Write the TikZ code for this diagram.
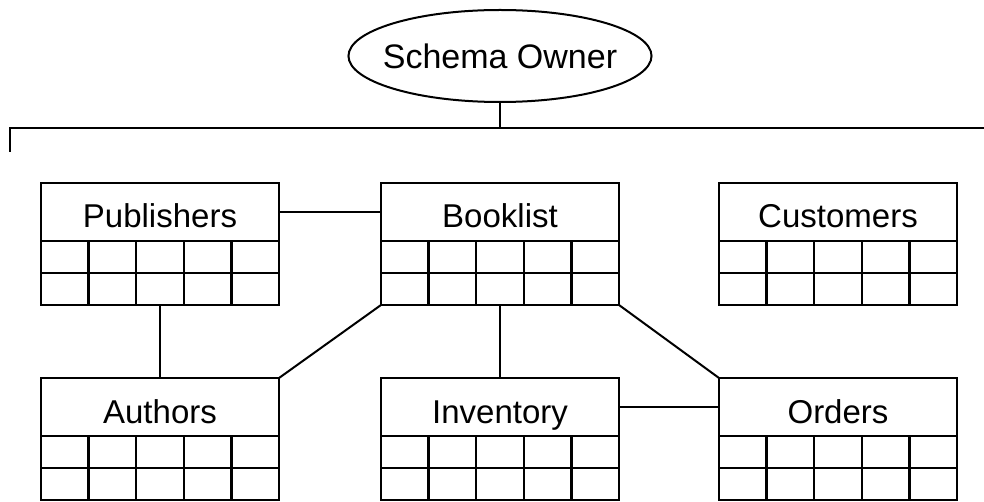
\documentclass[tikz,border=0pt]{standalone}
\usepackage{fontspec}
\setmainfont{Liberation Sans}
\usetikzlibrary{shapes.geometric,calc}
\tikzset{
  boxline/.style={line width=2.4pt},
  conn/.style={line width=2pt},
  hdr/.style={draw, boxline, rectangle, minimum width=238pt, minimum height=58pt, inner sep=0pt, outer sep=0pt,
    text height=32pt, text depth=0pt, font=\fontsize{33}{36}\selectfont},
  rows/.style={draw, boxline, rectangle, minimum width=238pt, minimum height=64pt, inner sep=0pt, outer sep=0pt, anchor=north},
  owner/.style={draw, conn, ellipse, minimum height=92pt, inner xsep=-10pt, inner ysep=0pt, outer sep=0pt,
    font=\fontsize{34}{36}\selectfont}
}
\newcommand\tablegrid[1]{%
  \draw[boxline] (#1.west) -- (#1.east);
  \foreach \i in {1,...,4}
    \draw[boxline] ($(#1.north west)!\i/5!(#1.north east)$) -- ($(#1.south west)!\i/5!(#1.south east)$);
}
\begin{document}
\begin{tikzpicture}[x=1pt,y=-1pt]
\useasboundingbox (0,0) rectangle (984,502);
% owner and bus
\node[owner] (own) at (500,56) {Schema Owner};
\coordinate (busl) at (10,128);
\coordinate (busr) at (984,128);
\coordinate (busend) at (10,152);
\draw[conn] (busend) -- (busl) -- (busr);
\draw[conn] (own.south) -- (own.south |- busl);
% tables, top row
\node[hdr] (pub) at (160,212) {Publishers};
\node[rows] (pubt) at (pub.south) {};
\node[hdr] (book) at (500,212) {Booklist};
\node[rows] (bookt) at (book.south) {};
\node[hdr] (cust) at (838,212) {Customers};
\node[rows] (custt) at (cust.south) {};
% tables, bottom row
\node[hdr] (auth) at (160,407) {Authors};
\node[rows] (autht) at (auth.south) {};
\node[hdr] (inv) at (500,407) {Inventory};
\node[rows] (invt) at (inv.south) {};
\node[hdr] (ord) at (838,407) {Orders};
\node[rows] (ordt) at (ord.south) {};
\tablegrid{pubt}
\tablegrid{bookt}
\tablegrid{custt}
\tablegrid{autht}
\tablegrid{invt}
\tablegrid{ordt}
% connectors
\draw[conn] (pub.east) -- (book.west);
\draw[conn] (pubt.south) -- (auth.north);
\draw[conn] (bookt.south west) -- (auth.north east);
\draw[conn] (bookt.south) -- (inv.north);
\draw[conn] (bookt.south east) -- (ord.north west);
\draw[conn] (inv.east) -- (ord.west);
\end{tikzpicture}
\end{document}
